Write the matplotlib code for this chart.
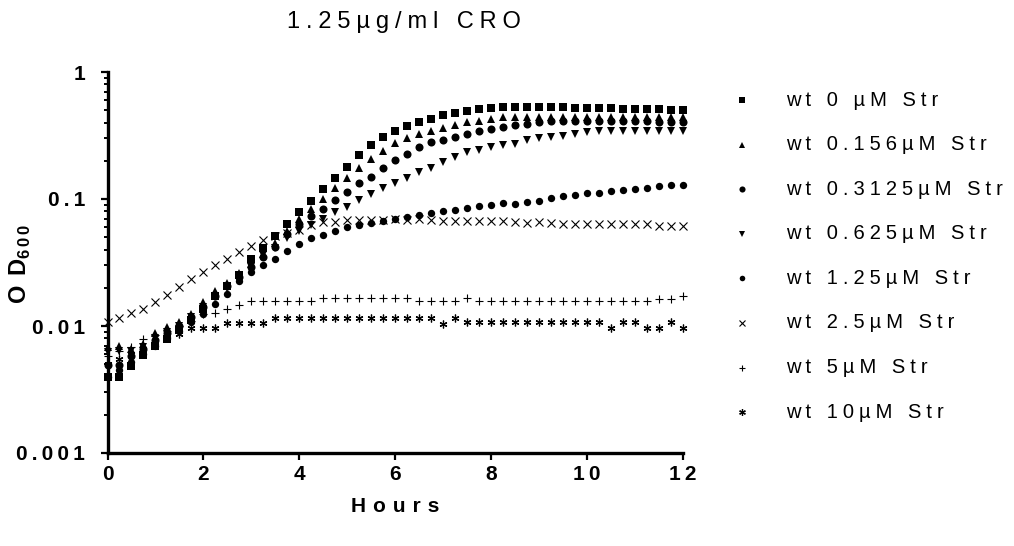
import matplotlib
matplotlib.use("Agg")
import matplotlib.pyplot as plt
from matplotlib.lines import Line2D
from matplotlib.ticker import FixedLocator, LogLocator, NullFormatter

plt.rcParams['font.family'] = ['Liberation Sans', 'DejaVu Sans']
plt.rcParams['mathtext.fontset'] = 'custom'
plt.rcParams['mathtext.bf'] = 'Liberation Sans:bold'
plt.rcParams['mathtext.rm'] = 'Liberation Sans'

hours = [0, 0.25, 0.5, 0.75, 1, 1.25, 1.5, 1.75, 2, 2.25, 2.5, 2.75, 3, 3.25, 3.5, 3.75,
         4, 4.25, 4.5, 4.75, 5, 5.25, 5.5, 5.75, 6, 6.25, 6.5, 6.75, 7, 7.25, 7.5, 7.75,
         8, 8.25, 8.5, 8.75, 9, 9.25, 9.5, 9.75, 10, 10.25, 10.5, 10.75, 11, 11.25, 11.5, 11.75, 12]

str_0 = [0.0040, 0.0040, 0.0048, 0.0059, 0.0070, 0.0079, 0.0093, 0.0112, 0.0135, 0.0172, 0.0208, 0.0250,
         0.0335, 0.0415, 0.0510, 0.0638, 0.079, 0.097, 0.120, 0.147, 0.180, 0.221, 0.266, 0.307,
         0.346, 0.375, 0.403, 0.428, 0.457, 0.477, 0.497, 0.514, 0.525, 0.528, 0.528, 0.528,
         0.528, 0.527, 0.527, 0.525, 0.522, 0.520, 0.518, 0.515, 0.513, 0.510, 0.508, 0.505, 0.500]

str_0156 = [0.0068, 0.0069, 0.0066, 0.0072, 0.0088, 0.0098, 0.0108, 0.0125, 0.0155, 0.0188, 0.0218, 0.0262,
            0.031, 0.037, 0.045, 0.056, 0.069, 0.0834, 0.100, 0.122, 0.146, 0.175, 0.206, 0.238,
            0.275, 0.303, 0.326, 0.346, 0.362, 0.384, 0.403, 0.415, 0.428, 0.440, 0.446, 0.446,
            0.446, 0.446, 0.446, 0.446, 0.446, 0.445, 0.445, 0.444, 0.444, 0.443, 0.442, 0.442, 0.440]

str_03125 = [0.0049, 0.0049, 0.0058, 0.0066, 0.0078, 0.0088, 0.0100, 0.0118, 0.0142, 0.0172, 0.0205, 0.0245,
             0.029, 0.035, 0.042, 0.053, 0.064, 0.073, 0.083, 0.099, 0.114, 0.134, 0.150, 0.175,
             0.201, 0.227, 0.256, 0.280, 0.292, 0.307, 0.326, 0.342, 0.357, 0.370, 0.380, 0.393,
             0.405, 0.408, 0.410, 0.410, 0.410, 0.410, 0.410, 0.409, 0.408, 0.408, 0.407, 0.406, 0.405]

str_0625 = [0.0062, 0.0064, 0.0064, 0.0068, 0.0080, 0.0090, 0.0100, 0.0118, 0.0140, 0.0170, 0.0200, 0.0240,
            0.029, 0.036, 0.041, 0.049, 0.056, 0.062, 0.0695, 0.0785, 0.087, 0.098, 0.110, 0.123,
            0.134, 0.147, 0.163, 0.176, 0.195, 0.213, 0.233, 0.244, 0.256, 0.264, 0.272, 0.289,
            0.300, 0.310, 0.316, 0.326, 0.338, 0.345, 0.345, 0.345, 0.345, 0.345, 0.345, 0.345, 0.345]

str_125 = [0.0040, 0.0045, 0.0052, 0.0060, 0.0070, 0.0080, 0.0092, 0.0107, 0.0125, 0.0148, 0.0180, 0.0228,
           0.0264, 0.030, 0.034, 0.039, 0.044, 0.0489, 0.052, 0.0556, 0.0597, 0.0627, 0.065, 0.0667,
           0.0700, 0.0720, 0.0750, 0.0775, 0.080, 0.0822, 0.0843, 0.0875, 0.090, 0.0925, 0.0913, 0.094,
           0.0958, 0.102, 0.105, 0.108, 0.111, 0.112, 0.115, 0.117, 0.120, 0.123, 0.126, 0.130, 0.130]

str_25 = [0.0108, 0.0116, 0.0126, 0.0135, 0.0154, 0.0175, 0.0203, 0.0235, 0.0264, 0.0302, 0.0340, 0.0384,
          0.0428, 0.0474, 0.051, 0.054, 0.057, 0.0625, 0.0655, 0.0665, 0.068, 0.068, 0.068, 0.068,
          0.069, 0.068, 0.069, 0.068, 0.0675, 0.0675, 0.0675, 0.0675, 0.0675, 0.0675, 0.066, 0.065,
          0.066, 0.065, 0.064, 0.064, 0.064, 0.064, 0.063, 0.063, 0.063, 0.063, 0.061, 0.061, 0.061]

str_5 = [0.0058, 0.0063, 0.0068, 0.0079, 0.0085, 0.0092, 0.0100, 0.0110, 0.0125, 0.0127, 0.0137, 0.0147,
         0.0157, 0.0157, 0.0157, 0.0157, 0.0157, 0.0157, 0.0165, 0.0165, 0.0165, 0.0165, 0.0165, 0.0165,
         0.0165, 0.0165, 0.0156, 0.0156, 0.0156, 0.0156, 0.0165, 0.0156, 0.0156, 0.0156, 0.0156, 0.0156,
         0.0156, 0.0156, 0.0156, 0.0156, 0.0156, 0.0156, 0.0156, 0.0156, 0.0156, 0.0156, 0.0164, 0.0164, 0.0173]

str_10 = [0.0050, 0.0055, 0.0060, 0.0066, 0.0073, 0.0080, 0.0087, 0.0097, 0.0097, 0.0097, 0.0106, 0.0106,
          0.0106, 0.0106, 0.0116, 0.0116, 0.0116, 0.0116, 0.0116, 0.0116, 0.0116, 0.0116, 0.0116, 0.0116,
          0.0116, 0.0116, 0.0116, 0.0116, 0.0104, 0.0116, 0.0108, 0.0108, 0.0108, 0.0108, 0.0108, 0.0108,
          0.0108, 0.0108, 0.0108, 0.0108, 0.0108, 0.0108, 0.0097, 0.0108, 0.0108, 0.0097, 0.0097, 0.0108, 0.0097]

labels = ["wt 0 µM Str", "wt 0.156µM Str", "wt 0.3125µM Str", "wt 0.625µM Str",
          "wt 1.25µM Str", "wt 2.5µM Str", "wt 5µM Str", "wt 10µM Str"]
series = [str_0, str_0156, str_03125, str_0625, str_125, str_25, str_5, str_10]

styles = [
    dict(marker='s', ms=5.6, mew=0),
    dict(marker='^', ms=6.2, mew=0),
    dict(marker='o', ms=5.8, mew=0),
    dict(marker='v', ms=6.2, mew=0),
    dict(marker='o', ms=5.3, mew=0),
    dict(marker='x', ms=5.8, mew=0.8),
    dict(marker='+', ms=6.2, mew=0.8),
    dict(marker=(6, 2, 0), ms=5.6, mew=0.9),
]
legend_ms = [4.3, 4.8, 4.4, 4.8, 4.0, 4.6, 5.0, 4.8]


def spaced(s, gap):
    return gap.join(list(s))


W, H = 1014, 546
fig = plt.figure(figsize=(W / 100, H / 100), dpi=100)
ax = fig.add_axes([107.5 / W, 1 - 453 / H, (683 - 107.5) / W, (453 - 72) / H])

for vals, st in zip(series, styles):
    ax.plot(hours, vals, linestyle='none', color='black', clip_on=False, **st)

ax.set_yscale('log')
ax.set_ylim(0.001, 1)
ax.set_xlim(0, 12)

for s in ['top', 'right']:
    ax.spines[s].set_visible(False)
for s in ['left', 'bottom']:
    ax.spines[s].set_linewidth(2.4)

ytick_vals = [0.001, 0.01, 0.1, 1]
ytick_labels = ["0.001", "0.01", "0.1", "1"]
xtick_vals = [0, 2, 4, 6, 8, 10, 12]
xtick_labels = ["0", "2", "4", "6", "8", "10", "12"]

ax.yaxis.set_major_locator(FixedLocator(ytick_vals))
ax.set_yticklabels([spaced(t, '\u2009') for t in ytick_labels])
ax.yaxis.set_minor_locator(LogLocator(base=10, subs=[2, 3, 4, 5, 6, 7, 8, 9]))
ax.yaxis.set_minor_formatter(NullFormatter())
ax.set_xticks(xtick_vals)
ax.set_xticklabels([spaced(t, '\u2009') for t in xtick_labels])

ax.tick_params(axis='both', which='major', length=5, width=1.6, color='black',
               labelsize=15, direction='out')
ax.tick_params(axis='y', which='major', pad=11)
ax.tick_params(axis='x', which='major', pad=4)
ax.tick_params(axis='y', which='minor', length=3.2, width=1.4, color='black')
for lab in ax.get_xticklabels() + ax.get_yticklabels():
    lab.set_fontweight('bold')

fig.text(404 / W, 1 - 22 / H, spaced("1.25µg/ml CRO", '\u2005'), ha='center', va='center',
         fontsize=17)
fig.text(395 / W, 1 - 506 / H, spaced("Hours", '\u2004'), ha='center', va='center', fontsize=15,
         fontweight='bold')
fig.text(20 / W, 1 - 264 / H, r'$\mathbf{O\;\,D}_{\mathbf{6\,0\,0}}$', ha='center', va='center',
         rotation=90, fontsize=17)

row0, drow = 100, 44.6
for i, (lab, st) in enumerate(zip(labels, styles)):
    y = 1 - (row0 + i * drow) / H
    d = dict(st)
    d['ms'] = legend_ms[i]
    fig.add_artist(Line2D([742 / W], [y], transform=fig.transFigure, linestyle='none',
                          color='black', **d))
    fig.text(786 / W, y, spaced(lab, '\u2005'), ha='left', va='center', fontsize=14.5)

fig.savefig('out.png', dpi=100)
